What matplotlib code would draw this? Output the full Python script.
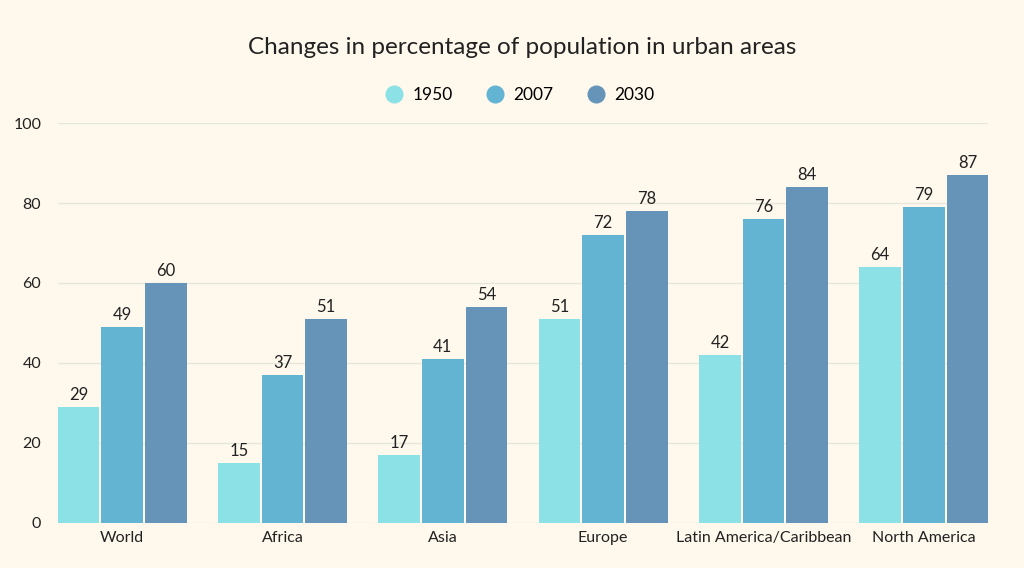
import numpy as np
import matplotlib
matplotlib.use("Agg")
import matplotlib.pyplot as plt
from matplotlib.lines import Line2D

regions = ["World", "Africa", "Asia", "Europe", "Latin America/Caribbean", "North America"]
years = ["1950", "2007", "2030"]
pct_1950 = [29, 15, 17, 51, 42, 64]
pct_2007 = [49, 37, 41, 72, 76, 79]
pct_2030 = [60, 51, 54, 78, 84, 87]
colors = ["#8ce1e6", "#63b3d3", "#6694b8"]

plt.rcParams["font.family"] = ["Lato", "DejaVu Sans"]
bg = "#fef9ec"

fig = plt.figure(figsize=(10.24, 5.68), dpi=100, facecolor=bg)
ax = fig.add_axes([58 / 1024, 45 / 568, 930 / 1024, 400 / 568], facecolor=bg)

x = np.arange(len(regions))
w = 0.26
off = 0.272
for k, (vals, c) in enumerate(zip([pct_1950, pct_2007, pct_2030], colors)):
    xs = x + (k - 1) * off
    ax.bar(xs, vals, w, color=c, zorder=3)
    for xi, v in zip(xs, vals):
        ax.text(xi, v + 1, str(v), ha="center", va="bottom", fontsize=12, color="#222222")

ax.set_xlim(-0.40, len(regions) - 0.60)
ax.set_ylim(0, 100)
ax.set_yticks([0, 20, 40, 60, 80, 100])
ax.set_xticks(x)
ax.set_xticklabels(regions)
ax.tick_params(axis="both", length=0, labelsize=11.5, colors="#222222")
ax.tick_params(axis="y", pad=12)
ax.tick_params(axis="x", pad=6)
ax.grid(axis="y", color="#e6e6dc", lw=1, zorder=0)
for s in ax.spines.values():
    s.set_visible(False)

fig.text(522 / 1024, 1 - 47 / 568, "Changes in percentage of population in urban areas",
         ha="center", va="center", fontsize=17.5, color="#222222")

handles = [Line2D([], [], marker="o", ls="", markersize=12, color=c) for c in colors]
fig.legend(handles, years, loc="center", bbox_to_anchor=(518 / 1024, 1 - 95 / 568), ncol=3,
           frameon=False, fontsize=12.5, handletextpad=0.3, columnspacing=1.7,
           handlelength=1.5)

fig.savefig("out.png", dpi=100, facecolor=bg)
